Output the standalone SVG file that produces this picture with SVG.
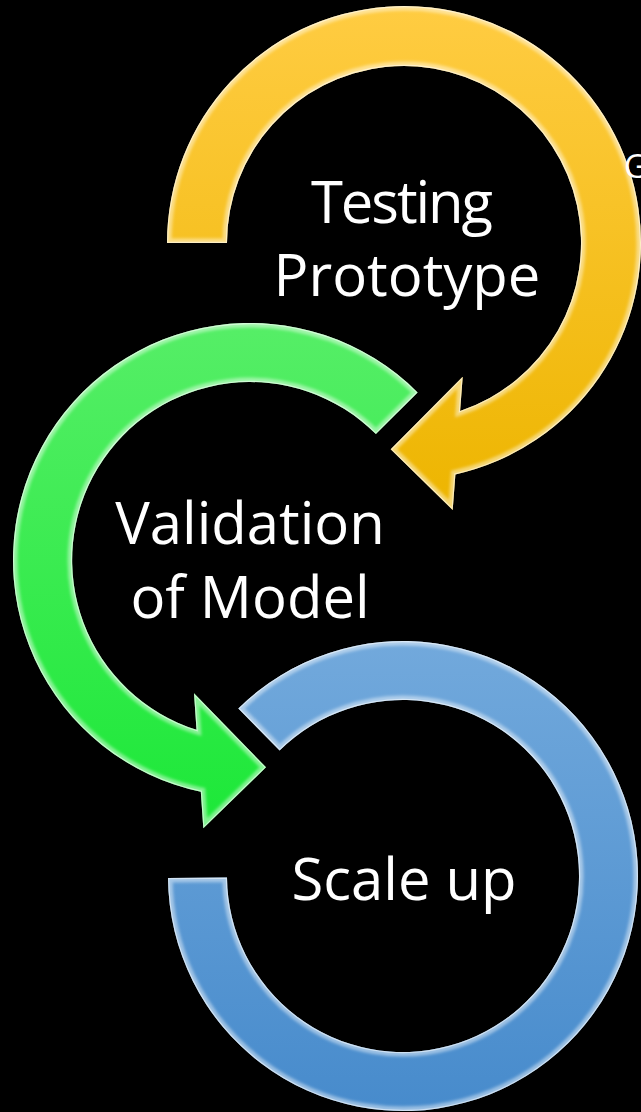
<svg xmlns="http://www.w3.org/2000/svg" width="641" height="1112" viewBox="0 0 641 1112">
  <style>
    .label { font-family: "Open Sans", "Noto Sans", "Liberation Sans", sans-serif; font-size: 58px; fill: #ffffff; text-anchor: middle; }
    .rim { fill: none; stroke: #ffffff; stroke-width: 9; stroke-opacity: 0.45; filter: url(#soft); }
    .edge { fill: none; stroke: #ffffff; stroke-width: 2.5; stroke-opacity: 0.5; }
  </style>
  <defs>
    <linearGradient id="gYellow" gradientUnits="userSpaceOnUse" x1="0" y1="6" x2="0" y2="510">
      <stop offset="0" stop-color="#FFCC42"/>
      <stop offset="1" stop-color="#EDB500"/>
    </linearGradient>
    <linearGradient id="gGreen" gradientUnits="userSpaceOnUse" x1="0" y1="323" x2="0" y2="828">
      <stop offset="0" stop-color="#56EE67"/>
      <stop offset="1" stop-color="#1CE838"/>
    </linearGradient>
    <linearGradient id="gBlue" gradientUnits="userSpaceOnUse" x1="0" y1="640" x2="0" y2="1111">
      <stop offset="0" stop-color="#72A9DC"/>
      <stop offset="1" stop-color="#478BCC"/>
    </linearGradient>
    <filter id="soft" x="-10%" y="-10%" width="120%" height="120%">
      <feGaussianBlur stdDeviation="1.8"/>
    </filter>
    <path id="pYellow" d="M 167 243 A 237 237 0 1 1 455.4 474.4 L 452.7 510 L 390.7 449.3 L 462.7 376.7 L 460.1 410.9 A 177 177 0 1 0 227 243 Z"/>
    <path id="pGreen" d="M 417.6 392.4 A 237 237 0 1 0 200.8 791.8 L 203.3 828.3 L 266 767.3 L 194 693.3 L 196.5 729.8 A 178 178 0 1 1 375.9 434.1 Z"/>
    <path id="pBlue" d="M 238.3 708.4 A 235 235 0 1 1 168 878 L 227 877.5 A 176 176 0 1 0 279.6 750.5 Z"/>
    <clipPath id="cYellow"><use href="#pYellow"/></clipPath>
    <clipPath id="cGreen"><use href="#pGreen"/></clipPath>
    <clipPath id="cBlue"><use href="#pBlue"/></clipPath>
  </defs>

  <rect x="0" y="0" width="641" height="1112" fill="#000000"/>

  <g id="connectors"></g>

  <g id="node-testing-prototype">
    <use href="#pYellow" fill="url(#gYellow)"/>
    <g clip-path="url(#cYellow)">
      <use href="#pYellow" class="rim"/>
      <use href="#pYellow" class="edge"/>
    </g>
    <text class="label" x="402" y="223" textLength="182" lengthAdjust="spacing">Testing</text>
    <text class="label" x="407" y="296">Prototype</text>
  </g>

  <g id="node-validation-of-model">
    <use href="#pGreen" fill="url(#gGreen)"/>
    <g clip-path="url(#cGreen)">
      <use href="#pGreen" class="rim"/>
      <use href="#pGreen" class="edge"/>
    </g>
    <text class="label" x="250" y="544">Validation</text>
    <text class="label" x="250" y="618">of Model</text>
  </g>

  <g id="node-scale-up">
    <use href="#pBlue" fill="url(#gBlue)"/>
    <g clip-path="url(#cBlue)">
      <use href="#pBlue" class="rim"/>
      <use href="#pBlue" class="edge"/>
    </g>
    <text class="label" x="404" y="900">Scale up</text>
  </g>

  <g id="node-partial-label">
    <text x="624" y="178" font-family="Open Sans, Noto Sans, Liberation Sans, sans-serif" font-size="32" fill="#ffffff">G</text>
  </g>
</svg>
